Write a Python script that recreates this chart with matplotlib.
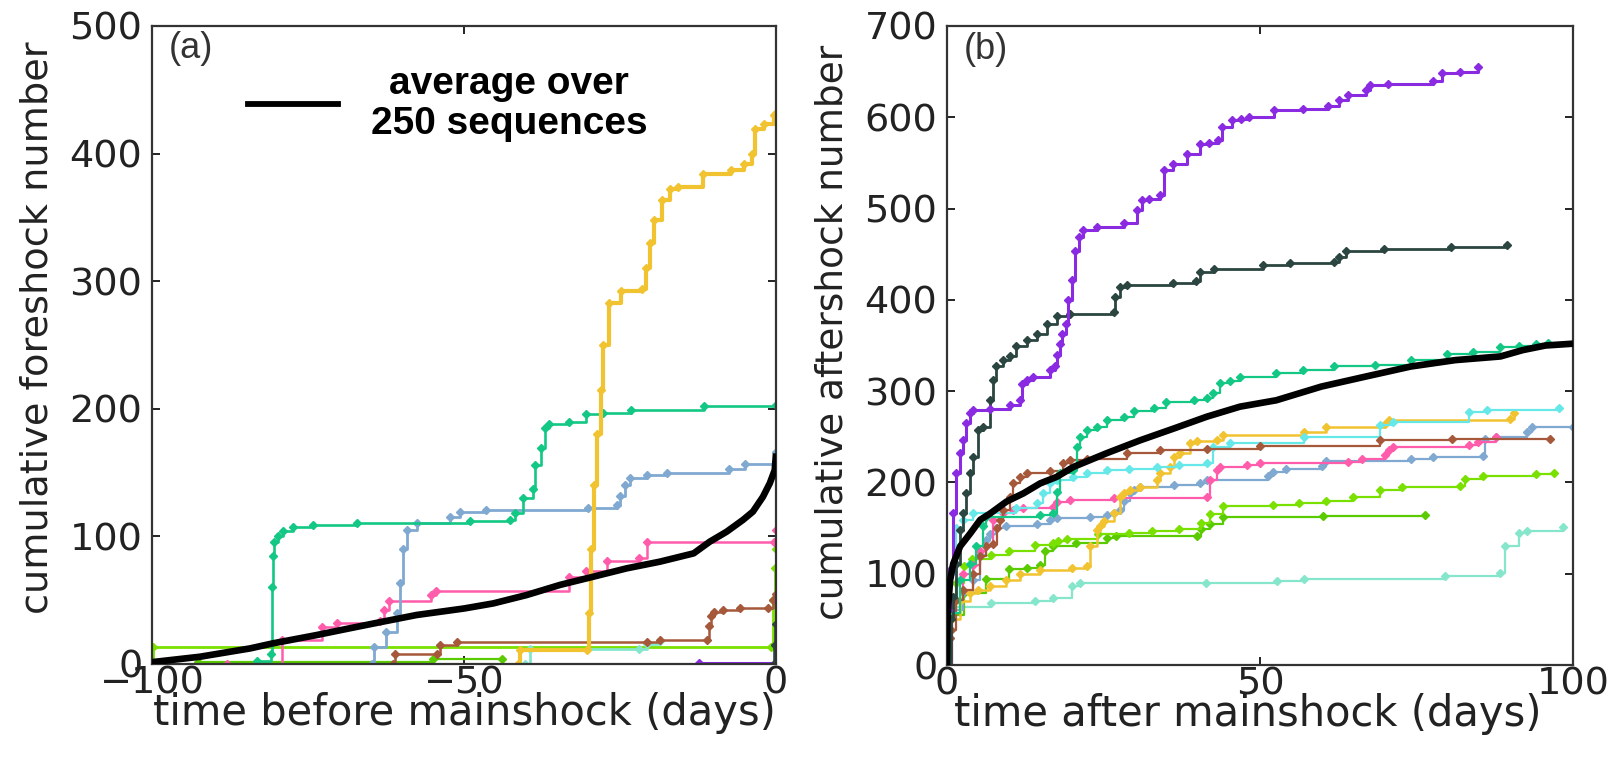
import matplotlib
matplotlib.use("Agg")
import matplotlib.pyplot as plt
from matplotlib import font_manager
from matplotlib.lines import Line2D

# ---------------- data: panel (a) foreshocks (time in days, cumulative number) ----------------
A_GREEN = [(-83.2, 2), (-81.0, 8), (-80.8, 60), (-80.6, 85), (-80.4, 96), (-79.8, 100), (-79.0, 104),
           (-77.4, 107), (-74.2, 109), (-67.2, 110.8), (-49.0, 112), (-42.6, 113), (-41.9, 118),
           (-40.5, 130), (-39.0, 137), (-38.6, 156), (-37.7, 169), (-37.0, 185), (-36.3, 188),
           (-33.1, 190), (-30.5, 196), (-27.8, 197), (-23.2, 199), (-11.5, 202), (0.0, 203)]
A_BLUE = [(-64.8, 0), (-64.5, 13.6), (-62.5, 25), (-60.8, 40), (-60.2, 63.5), (-59.7, 90),
          (-59.1, 105), (-57.6, 110.5), (-52.2, 115.5), (-50.7, 119.5), (-46.4, 120.7), (-30.1, 122.6),
          (-25.5, 125), (-25.0, 132), (-24.2, 140), (-23.4, 146), (-20.6, 148), (-17.4, 150),
          (-7.5, 152.5), (-4.9, 156.5), (-0.2, 157), (0.0, 166)]
A_YELLOW = [(-41.3, 0), (-41.0, 11), (-30.3, 11), (-30.0, 40), (-29.7, 90), (-29.2, 140),
            (-28.7, 180), (-28.1, 215), (-27.7, 250), (-26.8, 283), (-24.8, 292), (-21.5, 294),
            (-20.9, 310), (-20.2, 330), (-19.6, 348), (-18.3, 364), (-17.0, 372), (-15.7, 374),
            (-11.7, 384), (-7.2, 387), (-5.2, 392), (-3.9, 400), (-3.3, 419), (-2.0, 423),
            (-0.3, 430), (0.0, 432)]
A_PINK = [(-88.0, 0), (-79.2, 19), (-72.8, 29), (-70.4, 32), (-63.5, 34), (-62.8, 42), (-62.0, 49),
          (-55.3, 54), (-54.5, 57), (-33.2, 68), (-30.5, 73), (-27.1, 81), (-22.0, 83), (-20.7, 96),
          (-0.3, 96), (0.0, 105)]
A_BROWN = [(-61.3, 0), (-61.0, 8), (-54.4, 8), (-53.9, 15), (-51.2, 17), (-20.7, 17), (-18.6, 19),
           (-11.1, 19), (-10.7, 30), (-10.4, 38), (-10.0, 41), (-8.5, 42), (-5.8, 44), (-1.3, 44),
           (-0.5, 50), (0.0, 55)]
A_LIME = [(-100.0, 0), (-99.8, 13.5), (-0.8, 13.5), (-0.5, 50), (-0.2, 75), (0.0, 90)]
A_LIME2 = [(-92.6, 1.5), (-55.0, 4), (-43.9, 4)]
A_AQUA = [(-40.3, 0), (-39.5, 12), (-22.0, 12), (-20.7, 16), (-18.6, 18)]
A_PURPLE = [(-12.3, 1), (0.0, 1)]
A_DARK = [(-0.4, 0), (-0.2, 15), (0.0, 31)]
A_AVERAGE = [(-100, 0), (-99.9, 1.5), (-92.3, 5.7), (-84.3, 12.2), (-80.6, 16.2), (-73.6, 22.7),
             (-68.3, 28), (-63.0, 33.2), (-57.6, 38.4), (-50.0, 43.5), (-45.3, 47.5), (-40.0, 54),
             (-34.6, 62), (-29.3, 68.4), (-23.9, 75), (-18.6, 80.2), (-13.2, 86.7), (-10.6, 95.9),
             (-7.9, 103.7), (-5.3, 112.9), (-3.7, 119.4), (-2.1, 131), (-1.0, 141.6), (-0.2, 152),
             (0.0, 165)]

# ---------------- data: panel (b) aftershocks ----------------
B_PURPLE = [(0, 0), (0.2, 60), (0.5, 104), (1.0, 166), (1.5, 210), (2.1, 232), (2.6, 246), (3.1, 265),
            (3.7, 276), (4.2, 279), (6.9, 280), (10.1, 285), (11.7, 290), (12.0, 308), (12.7, 312),
            (13.8, 316), (16.5, 323), (17.2, 327), (17.5, 340), (18.0, 352), (18.3, 363), (19.0, 374),
            (19.3, 400), (19.9, 422), (20.5, 454), (21.1, 469), (21.8, 477), (24.0, 480), (28.3, 484),
            (30.4, 498), (31.1, 509), (32.2, 510), (34.0, 515), (34.7, 542), (36.1, 549), (38.3, 560),
            (40.4, 571), (41.9, 572), (43.3, 575), (44.0, 589), (45.5, 597), (46.9, 598), (48.3, 600),
            (52.3, 608), (56.9, 609), (60.8, 612), (62.6, 619), (64.1, 624), (66.9, 630), (67.6, 635),
            (70.5, 637), (77.7, 640), (79.1, 648), (82.0, 650), (84.8, 655)]
B_DARK = [(0, 0), (0.6, 50), (1.0, 75), (1.5, 111), (2.1, 148), (2.6, 166), (3.1, 188), (3.7, 210),
          (4.2, 228), (5.0, 257), (5.8, 261), (6.9, 290), (7.4, 312), (7.9, 327), (9.0, 334),
          (10.1, 338), (11.1, 349), (12.7, 356), (14.3, 363), (15.9, 374), (17.5, 382), (19.6, 385),
          (26.7, 387), (26.9, 403), (27.6, 414), (28.7, 416), (36.1, 418), (39.7, 421), (40.4, 430),
          (42.6, 434), (50.5, 438), (54.8, 440), (61.9, 441), (62.6, 447), (63.8, 454), (69.8, 456),
          (80.5, 458), (89.5, 460)]
B_GREEN = [(0, 0), (0.5, 57), (2.1, 93), (3.7, 111), (4.7, 130), (5.8, 152), (6.3, 162), (14.9, 164),
           (17.0, 166), (17.5, 190), (18.0, 210), (20.2, 214), (20.7, 239), (21.2, 250), (22.3, 257),
           (23.9, 261), (25.5, 268), (28.2, 272), (29.8, 278), (33.0, 281), (35.0, 288), (39.4, 290),
           (41.5, 292), (42.5, 298), (43.6, 309), (45.2, 311), (46.8, 316), (52.6, 320), (56.9, 323),
           (61.9, 327), (68.4, 329), (74.1, 334), (79.8, 341), (84.1, 343), (88.4, 348), (91.3, 350),
           (94.1, 352), (96.0, 353)]
B_BROWN = [(0, 0), (0.4, 30), (0.7, 38), (1.5, 71), (2.5, 82), (4.2, 100), (5.3, 119), (6.3, 130),
           (7.4, 133), (8.0, 150), (8.5, 159), (9.0, 170), (10.0, 184), (10.6, 199), (11.7, 206),
           (12.7, 210), (16.5, 212), (18.6, 221), (19.6, 225), (22.3, 226), (28.7, 232), (34.0, 235),
           (41.5, 237), (50.0, 240), (69.1, 246), (80.6, 248), (96.3, 248)]
B_CYAN = [(0, 0), (0.5, 100), (1.5, 150), (2.5, 159), (4.2, 166), (11.1, 172), (14.3, 177), (15.4, 188),
          (16.5, 199), (17.5, 203), (20.2, 206), (22.3, 210), (25.5, 214), (29.0, 215), (33.5, 217),
          (37.0, 219), (41.5, 221), (42.5, 239), (45.2, 243), (57.0, 250), (69.1, 263), (71.3, 266),
          (83.4, 277), (86.3, 279), (97.7, 281)]
B_YELLOW = [(0, 0), (0.6, 50), (2.0, 70), (3.7, 79), (5.0, 82), (6.9, 86), (9.5, 93), (11.7, 100),
            (14.9, 104), (20.0, 106), (22.3, 108), (22.8, 130), (23.9, 148), (24.4, 152), (25.0, 158),
            (26.6, 166), (27.6, 184), (28.2, 188), (29.2, 192), (30.8, 195), (33.5, 203), (34.0, 210),
            (35.6, 217), (36.2, 228), (37.2, 232), (38.8, 243), (39.9, 245), (43.1, 246), (44.1, 252),
            (57.0, 255), (60.6, 261), (69.9, 264), (70.6, 268), (89.9, 270), (90.5, 276)]
B_PINK = [(0, 0), (0.8, 70), (2.5, 100), (4.2, 110), (5.3, 125), (6.3, 130), (7.4, 159), (9.0, 166),
          (10.6, 170), (12.2, 172), (17.0, 173), (17.5, 179), (19.6, 181), (26.6, 183), (41.5, 184),
          (42.0, 203), (43.1, 214), (43.6, 217), (47.9, 219), (50.0, 221), (64.1, 222), (66.3, 226),
          (69.9, 230), (70.6, 235), (71.3, 239), (83.4, 241), (84.9, 244), (87.7, 250)]
B_LBLUE = [(0, 0), (0.8, 60), (2.5, 80), (4.2, 93), (5.3, 120), (6.3, 137), (6.9, 144), (7.9, 150),
           (9.5, 152), (14.3, 155), (16.5, 159), (17.5, 161), (22.8, 162), (25.5, 164), (26.6, 166),
           (27.6, 170), (28.2, 180), (29.2, 188), (29.8, 192), (30.8, 195), (36.2, 197), (40.4, 199),
           (41.5, 203), (51.3, 207), (52.0, 211), (54.1, 215), (59.9, 218), (60.6, 224), (74.1, 226),
           (77.7, 228), (85.6, 229), (85.9, 248), (87.7, 250), (92.7, 255), (93.4, 261), (100.0, 261)]
B_LIME_A = [(0, 0), (0.5, 60), (1.5, 90), (2.7, 108), (4.0, 116), (7.0, 121), (9.9, 125), (14.1, 132),
            (17.0, 134), (17.7, 136), (19.1, 138), (24.1, 143), (29.1, 145), (32.7, 147), (37.0, 149),
            (40.6, 156), (42.0, 165), (44.1, 174), (52.0, 175), (56.3, 177), (60.6, 180), (64.9, 184),
            (69.1, 192), (72.7, 195), (82.0, 196), (82.7, 204), (85.6, 207), (94.1, 209), (97.0, 210)]
B_LIME_B = [(0, 0), (0.5, 55), (2.7, 79), (6.3, 94), (9.9, 105), (12.7, 106), (14.9, 110), (15.6, 125),
            (17.0, 130), (20.6, 134), (25.6, 139), (27.0, 141), (39.9, 141), (40.6, 149), (42.0, 155),
            (44.1, 162), (60.0, 163), (76.3, 164)]
B_AQUA = [(0, 0), (0.4, 50), (0.8, 64), (7.0, 68), (14.1, 70), (17.0, 73), (19.9, 86), (21.3, 90),
          (41.3, 90), (52.7, 92), (57.0, 94), (79.5, 97), (88.4, 101), (89.1, 130), (91.3, 145),
          (92.7, 147), (98.4, 151)]
B_AVERAGE = [(0, 0), (0.05, 45), (0.2, 65), (0.5, 93), (1.0, 111), (2.1, 130), (3.7, 144), (5.3, 159),
             (6.9, 166), (9.5, 179), (12.2, 188), (14.9, 199), (17.5, 206), (20.2, 217), (25.5, 232),
             (30.8, 246), (36.2, 259), (41.5, 272), (46.8, 283), (52.6, 290), (59.8, 305), (66.9, 316),
             (74.1, 327), (81.2, 334), (88.4, 338), (92.0, 345), (95.6, 350), (100.0, 352)]

A_XTICKS = [-100, -50, 0]
A_YTICKS = [0, 100, 200, 300, 400, 500]
B_XTICKS = [0, 50, 100]
B_YTICKS = [0, 100, 200, 300, 400, 500, 600, 700]
LEGEND_LABEL = "average over\n250 sequences"

# ---------------- styling ----------------
COL = {
    "green": "#13C784", "lblue": "#80A9D2", "yellow": "#F2C330", "pink": "#FF5CAB",
    "brown": "#A5583A", "lime": "#7AE000", "lime2": "#5ACB00", "aqua": "#86E6CC",
    "purple": "#8A2BE2", "dark": "#2B4540", "cyan": "#66E8E8",
}


def font_ok(name):
    try:
        font_manager.findfont(font_manager.FontProperties(family=name), fallback_to_default=False)
        return True
    except Exception:
        return False


BOLD_FONT = "Liberation Sans" if font_ok("Liberation Sans") else "DejaVu Sans"
LAB_FONT = "DejaVu Sans"

fig = plt.figure(figsize=(16.21, 7.67), dpi=100)
W, H = 1621.0, 767.0
ax1 = fig.add_axes([152 / W, (H - 664) / H, 624 / W, 638 / H])
ax2 = fig.add_axes([947 / W, (H - 665) / H, 626 / W, 639 / H])


def draw(ax, pts, color, lw=1.6, ms=4.0, marker="D"):
    t = [p[0] for p in pts]
    n = [p[1] for p in pts]
    ax.plot(t, n, drawstyle="steps-post", color=color, lw=lw, marker=marker, ms=ms,
            mec=color, mfc=color, clip_on=True)


def draw_avg(ax, pts):
    t = [p[0] for p in pts]
    n = [p[1] for p in pts]
    ax.plot(t, n, color="black", lw=4.8, solid_capstyle="butt", zorder=10)


# panel (a)
draw(ax1, A_LIME, COL["lime"], lw=2.0)
draw(ax1, A_LIME2, COL["lime2"])
draw(ax1, A_AQUA, COL["aqua"], lw=2.0)
draw(ax1, A_PURPLE, COL["purple"], lw=2.2)
draw(ax1, A_BROWN, COL["brown"], lw=1.8)
draw(ax1, A_PINK, COL["pink"], lw=1.8)
draw(ax1, A_BLUE, COL["lblue"], lw=2.0)
draw(ax1, A_GREEN, COL["green"], lw=1.9)
draw(ax1, A_YELLOW, COL["yellow"], lw=3.0, ms=4.5)
draw(ax1, A_DARK, COL["dark"], lw=2.6)
draw_avg(ax1, A_AVERAGE)

# panel (b)
draw(ax2, B_AQUA, COL["aqua"])
draw(ax2, B_LIME_B, COL["lime2"])
draw(ax2, B_LIME_A, COL["lime"])
draw(ax2, B_LBLUE, COL["lblue"])
draw(ax2, B_PINK, COL["pink"])
draw(ax2, B_YELLOW, COL["yellow"], lw=1.8)
draw(ax2, B_CYAN, COL["cyan"])
draw(ax2, B_BROWN, COL["brown"])
draw(ax2, B_GREEN, COL["green"])
draw(ax2, B_DARK, COL["dark"], lw=2.0)
draw(ax2, B_PURPLE, COL["purple"], lw=2.2)
draw_avg(ax2, B_AVERAGE)

for ax, xl, yl, xt, yt in [(ax1, (-100, 0), (0, 500), A_XTICKS, A_YTICKS),
                           (ax2, (0, 100), (0, 700), B_XTICKS, B_YTICKS)]:
    ax.set_xlim(*xl)
    ax.set_ylim(*yl)
    ax.set_xticks(xt)
    ax.set_yticks(yt)
    ax.tick_params(direction="in", length=6, width=1.4, top=True, right=True,
                   labelsize=27.5, colors="#222222")
    ax.tick_params(axis="y", pad=7)
    ax.tick_params(axis="x", pad=1)
    for s in ax.spines.values():
        s.set_linewidth(1.6)
        s.set_color("#333333")
    for lab in ax.get_xticklabels() + ax.get_yticklabels():
        lab.set_family("DejaVu Sans")

ax1.set_xlabel("time before mainshock (days)", fontsize=30, family=LAB_FONT, color="#222222",
               va="center")
ax1.xaxis.set_label_coords(0.5, -0.077)
ax1.set_ylabel("cumulative foreshock number", fontsize=27.5, family=LAB_FONT, color="#222222",
               va="center")
ax1.yaxis.set_label_coords(-0.183, 0.527)

ax2.set_xlabel("time after mainshock (days)", fontsize=30, family=LAB_FONT, color="#222222",
               va="center")
ax2.xaxis.set_label_coords(0.48, -0.077)
ax2.set_ylabel("cumulative aftershock number", fontsize=27, family=LAB_FONT, color="#222222",
               va="center")
ax2.yaxis.set_label_coords(-0.183, 0.521)

ax1.text(0.0625, 0.964, "(a)", transform=ax1.transAxes, fontsize=26, family=BOLD_FONT,
         color="#333333", ha="center", va="center")
ax2.text(0.0625, 0.964, "(b)", transform=ax2.transAxes, fontsize=26, family=BOLD_FONT,
         color="#333333", ha="center", va="center")

handle = Line2D([], [], color="black", lw=4.2)
leg = ax1.legend([handle], [LEGEND_LABEL], loc="center left", bbox_to_anchor=(0.154, 0.878),
                 frameon=False, borderpad=0, borderaxespad=0, handlelength=2.3,
                 handletextpad=0.85, labelspacing=0,
                 prop={"family": BOLD_FONT, "weight": "bold", "size": 28})
for t in leg.get_texts():
    t.set_multialignment("center")
    t.set_linespacing(1.15)

fig.savefig("out.png", dpi=100)
